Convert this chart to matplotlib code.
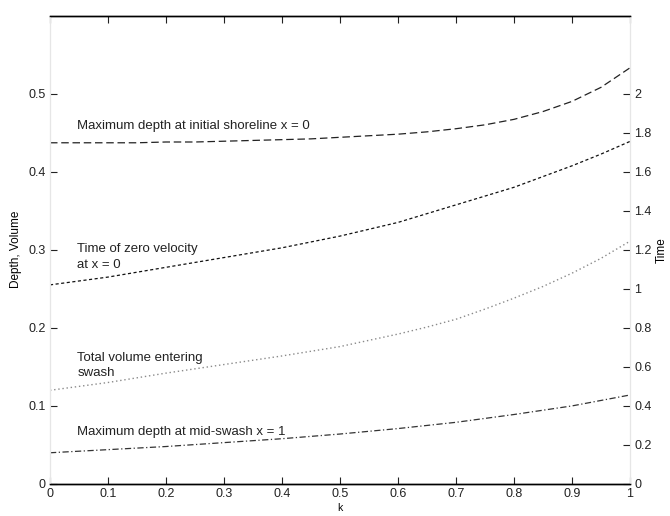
import matplotlib
matplotlib.use("Agg")
import matplotlib.pyplot as plt

# ── data ────────────────────────────────────────────────────────────────────
k = [0.00, 0.05, 0.10, 0.15, 0.20, 0.25, 0.30, 0.35, 0.40, 0.45, 0.50,
     0.55, 0.60, 0.65, 0.70, 0.75, 0.80, 0.85, 0.90, 0.95, 1.00]

# left axis: Depth, Volume
depth_shore = [0.437, 0.437, 0.437, 0.437, 0.438, 0.438, 0.439, 0.440, 0.441, 0.442, 0.444,
               0.446, 0.448, 0.451, 0.455, 0.460, 0.467, 0.477, 0.490, 0.508, 0.533]
volume      = [0.120, 0.125, 0.130, 0.136, 0.142, 0.1475, 0.153, 0.1585, 0.164, 0.170, 0.176,
               0.184, 0.192, 0.201, 0.211, 0.224, 0.238, 0.253, 0.270, 0.289, 0.311]
depth_mid   = [0.040, 0.042, 0.044, 0.046, 0.048, 0.0505, 0.053, 0.0555, 0.058, 0.061, 0.064,
               0.0675, 0.071, 0.075, 0.079, 0.084, 0.089, 0.0945, 0.100, 0.107, 0.114]

# right axis: Time
time_zero = [1.02, 1.04, 1.06, 1.085, 1.11, 1.135, 1.16, 1.185, 1.21, 1.24, 1.27,
             1.305, 1.34, 1.385, 1.43, 1.475, 1.52, 1.575, 1.63, 1.69, 1.755]

left_ticks  = [0, 0.1, 0.2, 0.3, 0.4, 0.5]
right_ticks = [0, 0.2, 0.4, 0.6, 0.8, 1, 1.2, 1.4, 1.6, 1.8, 2]
x_ticks     = [0, 0.1, 0.2, 0.3, 0.4, 0.5, 0.6, 0.7, 0.8, 0.9, 1]

plt.rcParams["font.family"] = ["Liberation Sans", "DejaVu Sans"]

# ── figure ──────────────────────────────────────────────────────────────────
fig = plt.figure(figsize=(6.7, 5.16), dpi=100, facecolor="white")
ax = fig.add_axes([50 / 670, 32 / 516, 580 / 670, 468.5 / 516])
ax2 = ax.twinx()

ax.plot(k, depth_shore, color="#222222", lw=0.9, dashes=(6, 3))
ax.plot(k, volume, color="#8a8a8a", lw=1.0, linestyle=(0, (1, 2)))
ax.plot(k, depth_mid, color="#333333", lw=0.9, linestyle=(0, (5, 2, 1, 2)))
ax2.plot(k, time_zero, color="#111111", lw=0.9, dashes=(2.5, 2))

ax.set_xlim(0, 1)
ax.set_ylim(0, 0.6)
ax2.set_ylim(0, 2.4)

ax.set_xticks(x_ticks)
ax.set_xticklabels([f"{t:g}" for t in x_ticks])
ax.set_yticks(left_ticks)
ax.set_yticklabels([f"{t:g}" for t in left_ticks])
ax2.set_yticks(right_ticks)
ax2.set_yticklabels([f"{t:g}" for t in right_ticks])

for a in (ax, ax2):
    a.tick_params(direction="in", length=5, width=0.8, labelsize=9,
                  colors="#222222", pad=3)
    a.spines["left"].set_color("#e6e6e6")
    a.spines["right"].set_color("#e6e6e6")
    a.spines["top"].set_linewidth(1.0)
    a.spines["bottom"].set_linewidth(1.0)
ax.tick_params(axis="x", top=True)

ax.set_xlabel("k", fontsize=7.5, labelpad=2)
ax.set_ylabel("Depth, Volume", fontsize=8.5, labelpad=5)
ax2.set_ylabel("Time", fontsize=8.5, labelpad=3)

# ── annotations ─────────────────────────────────────────────────────────────
kw = dict(fontsize=9.5, color="#222222", ha="left", va="center")
ax.text(0.047, 0.458, "Maximum depth at initial shoreline x = 0", **kw)
ax.text(0.047, 0.301, "Time of zero velocity", **kw)
ax.text(0.047, 0.281, "at x = 0", **kw)
ax.text(0.047, 0.1615, "Total volume entering", **kw)
ax.text(0.047, 0.142, "swash", **kw)
ax.text(0.047, 0.067, "Maximum depth at mid-swash x = 1", **kw)

plt.savefig("out.png", dpi=100, facecolor=fig.get_facecolor())
